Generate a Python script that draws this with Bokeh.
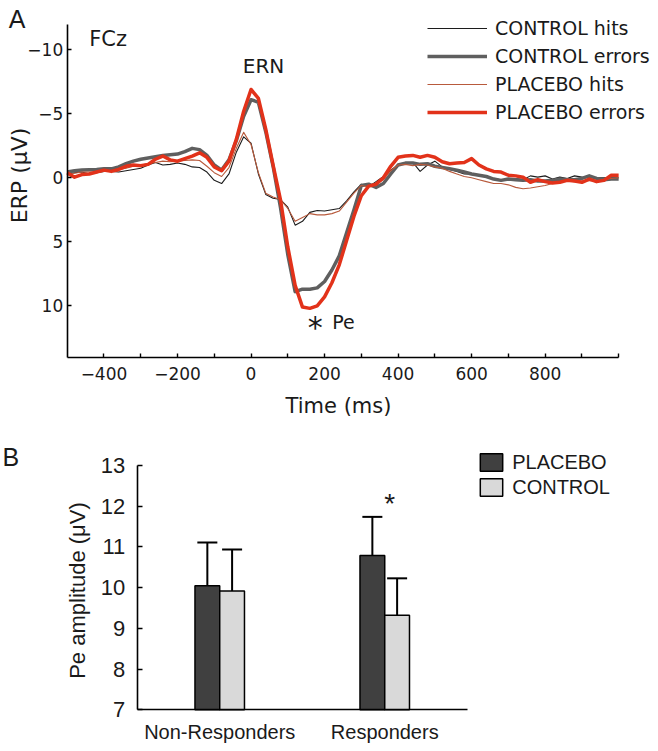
import math
from bokeh.plotting import figure
from bokeh.models import (Range1d, FixedTicker, Label, Legend, LegendItem,
                          ColumnDataSource, Whisker, TeeHead)
from bokeh.layouts import column
from bokeh.embed import file_html
from bokeh.resources import INLINE

# ---------------- Panel A data (ERP at FCz, µV; negative up) ----------------
time_ms = [-500, -480, -460, -440, -420, -400, -380, -360, -340, -320, -300, -280,
           -260, -240, -220, -200, -180, -160, -140, -120, -100, -80, -60, -40,
           -20, 0, 20, 40, 60, 80, 100, 120, 140, 160, 180, 200, 220, 240, 260,
           280, 300, 320, 340, 360, 380, 400, 420, 440, 460, 480, 500, 520, 540,
           560, 580, 600, 620, 640, 660, 680, 700, 720, 740, 760, 780, 800, 820,
           840, 860, 880, 900, 920, 940, 960, 980, 1000]

control_hits = [-0.3, -0.4, -0.45, -0.3, -0.4, -0.5, -0.5, -0.45, -0.55, -0.65, -0.75, -1.0,
                -1.2, -1.0, -1.05, -1.15, -1.05, -0.85, -0.8, -0.45, 0.2, 0.45, -0.3, -2.0,
                -3.2, -2.7, -0.3, 1.3, 1.6, 1.7, 2.3, 3.7, 3.4, 2.7, 2.55, 2.6, 2.5, 2.4, 1.8,
                1.1, 0.5, 0.7, 0.3, -0.1, -0.6, -1.0, -1.15, -1.2, -0.5, -1.0, -1.3, -0.85, -0.65,
                -0.5, -0.3, -0.3, -0.2, -0.05, 0.05, 0.15, 0.2, 0.05, 0.15, -0.15, -0.05, -0.15, 0.1,
                -0.05, 0.05, -0.15, -0.05, 0.0, 0.0, 0.0, 0.0, 0.0]

control_errors = [-0.45, -0.55, -0.6, -0.62, -0.65, -0.7, -0.7, -0.85, -1.1, -1.3, -1.45, -1.55,
                  -1.65, -1.75, -1.8, -1.85, -2.05, -2.3, -2.2, -1.75, -1.0, -0.6, -1.4, -2.9,
                  -4.8, -6.1, -5.9, -3.6, -0.9, 2.3, 6.0, 8.9, 8.7, 8.7, 8.6, 8.1, 7.2, 6.1, 4.3,
                  2.5, 0.6, 0.5, 0.75, 0.45, -0.3, -1.0, -1.15, -1.15, -1.05, -1.1, -0.9, -0.8, -0.7,
                  -0.6, -0.45, -0.3, -0.2, -0.1, 0.1, 0.2, 0.1, 0.15, 0.2, 0.15, 0.25, 0.25, 0.2,
                  0.1, 0.15, 0.15, 0.05, -0.15, 0.05, 0.15, 0.1, 0.1]

placebo_hits = [-0.2, -0.35, -0.45, -0.45, -0.45, -0.5, -0.55, -0.65, -0.75, -0.9, -1.0, -1.1,
                -1.2, -1.3, -1.25, -1.3, -1.35, -1.4, -1.35, -0.9, -0.4, -0.1, -0.8, -2.3,
                -3.55, -2.6, -0.4, 1.2, 1.5, 1.7, 2.4, 3.4, 3.1, 2.8, 2.9, 2.9, 2.8, 2.6, 1.9,
                1.2, 0.6, 0.7, 0.5, 0.15, -0.55, -1.0, -1.05, -0.95, -1.05, -1.0, -0.85, -0.75, -0.5,
                -0.3, -0.1, 0.0, 0.15, 0.3, 0.45, 0.45, 0.55, 0.75, 0.85, 0.8, 0.7, 0.6, 0.45,
                0.35, 0.25, 0.3, 0.25, 0.2, 0.25, 0.15, 0.05, 0.0]

placebo_errors = [-0.4, -0.05, -0.25, -0.3, -0.45, -0.6, -0.5, -0.65, -0.9, -1.0, -0.95, -1.05,
                  -1.45, -1.7, -1.4, -1.3, -1.5, -1.7, -1.95, -1.6, -0.85, -0.55, -1.3, -3.0,
                  -5.2, -6.9, -6.2, -3.8, -1.0, 1.7, 5.4, 8.4, 10.1, 10.2, 10.0, 9.3, 8.2, 6.8, 4.9,
                  3.0, 1.4, 0.65, 0.5, 0.0, -0.9, -1.6, -1.7, -1.75, -1.6, -1.75, -1.6, -1.25, -1.1,
                  -1.15, -1.2, -1.5, -1.0, -0.7, -0.5, -0.45, -0.2, -0.15, -0.05, 0.35, 0.15, 0.3, 0.4,
                  0.35, 0.2, 0.25, 0.35, 0.1, 0.3, 0.2, -0.2, -0.2]

x_ticks_a = [-400, -300, -200, -100, 0, 100, 200, 300, 400, 500, 600, 700, 800, 900, 1000]
x_labels_a = ["−400", "", "−200", "", "0", "", "200", "", "400", "", "600", "", "800", "", ""]
y_ticks_a = [-10, -5, 0, 5, 10]
y_labels_a = ["−10", "−5", "0", "5", "10"]

# ---------------- Panel B data (Pe amplitude, µV) ----------------
groups = ["Non-Responders", "Responders"]
group_pos = [1, 2]
placebo_pe = [10.05, 10.79]
placebo_sem = [1.06, 0.95]
control_pe = [9.92, 9.32]
control_sem = [1.02, 0.91]
y_ticks_b = [7, 8, 9, 10, 11, 12, 13]

FONT_A = "DejaVu Sans"
FONT_B = "Liberation Sans"
INK = "#1a1a1a"

# ================= Panel A =================
# The frame fills the whole canvas; the axes are drawn at fixed data locations
# so that every text can live inside the (clipped) frame.
pA = figure(width=658, height=420, output_backend="svg", toolbar_location=None,
            x_range=Range1d(-681.5, 1108.4), y_range=Range1d(18.96, -13.85),
            min_border_left=0, min_border_right=0, min_border_top=0,
            min_border_bottom=0)
pA.frame_align = False
pA.outline_line_color = None
pA.grid.visible = False

series = [
    ("CONTROL hits", control_hits, "#1c1c1c", 1.1),
    ("CONTROL errors", control_errors, "#5f5f5f", 3.5),
    ("PLACEBO hits", placebo_hits, "#b85a3c", 1.1),
    ("PLACEBO errors", placebo_errors, "#e2321a", 3.5),
]
items_a = []
for name, vals, col, lw in series:
    r = pA.line(time_ms, vals, line_color=col, line_width=lw, line_join="round")
    items_a.append(LegendItem(label=name, renderers=[r]))

for ax in (pA.xaxis[0], pA.yaxis[0]):
    ax.axis_line_color = "black"
    ax.axis_line_width = 1.6
    ax.major_tick_line_color = "black"
    ax.major_tick_line_width = 1.4
    ax.major_tick_in = 4
    ax.major_tick_out = 0
    ax.minor_tick_line_color = None
    ax.major_label_text_font = FONT_A
    ax.major_label_text_font_size = "17px"
    ax.major_label_text_color = INK

xa = pA.xaxis[0]
xa.fixed_location = 14
xa.bounds = (-500, 1000)
xa.ticker = FixedTicker(ticks=x_ticks_a)
xa.major_label_overrides = dict(zip(x_ticks_a, x_labels_a))
xa.major_label_standoff = 10
ya = pA.yaxis[0]
ya.fixed_location = -500
ya.bounds = (-12, 14)
ya.ticker = FixedTicker(ticks=y_ticks_a)
ya.major_label_overrides = dict(zip(y_ticks_a, y_labels_a))
ya.major_label_standoff = 4

legA = Legend(items=items_a, location=(427, 296), glyph_width=60, glyph_height=24,
              label_height=24, spacing=4, label_standoff=8, padding=0, margin=0,
              border_line_color=None, background_fill_alpha=0,
              label_text_font=FONT_A, label_text_font_size="19px",
              label_text_color=INK)
pA.add_layout(legA)

pA.add_layout(Label(x=-440, y=-10.85, text="FCz", text_font=FONT_A, text_font_size="21px",
                    text_align="left", text_baseline="middle", text_color=INK))
pA.add_layout(Label(x=34, y=-8.75, text="ERN", text_font=FONT_A, text_font_size="20px",
                    text_align="center", text_baseline="middle", text_color=INK))
pA.add_layout(Label(x=175, y=11.7, text="*", text_font=FONT_A, text_font_size="30px",
                    text_align="center", text_baseline="alphabetic", text_color=INK))
pA.add_layout(Label(x=221, y=11.3, text="Pe", text_font=FONT_A, text_font_size="19px",
                    text_align="left", text_baseline="middle", text_color=INK))
pA.add_layout(Label(x=-630, y=-0.18, text="ERP (μV)",
                    angle=math.pi / 2, text_font=FONT_A, text_font_size="22px",
                    text_align="center", text_baseline="middle", text_color=INK))
pA.add_layout(Label(x=238, y=17.8, text="Time (ms)",
                    text_font=FONT_A, text_font_size="21px",
                    text_align="center", text_baseline="middle", text_color=INK))
pA.add_layout(Label(x=-659, y=-12.42, text="A",
                    text_font=FONT_B, text_font_size="25px",
                    text_align="left", text_baseline="alphabetic", text_color=INK))

# ================= Panel B =================
pB = figure(width=658, height=331, output_backend="svg", toolbar_location=None,
            x_range=Range1d(-0.3285, 3.659), y_range=Range1d(5.975, 14.108),
            min_border_left=0, min_border_right=0, min_border_top=0,
            min_border_bottom=0)
pB.frame_align = False
pB.outline_line_color = None
pB.grid.visible = False

offset = 0.075
bar_w = 0.15
src = ColumnDataSource(dict(
    xp=[g - offset for g in group_pos],
    xc=[g + offset for g in group_pos],
    placebo=placebo_pe,
    control=control_pe,
    p_up=[m + s for m, s in zip(placebo_pe, placebo_sem)],
    p_lo=[m - s for m, s in zip(placebo_pe, placebo_sem)],
    c_up=[m + s for m, s in zip(control_pe, control_sem)],
    c_lo=[m - s for m, s in zip(control_pe, control_sem)],
))
rp = pB.vbar(x="xp", top="placebo", bottom=7, width=bar_w, source=src,
             fill_color="#404040", line_color="black", line_width=1.5)
rc = pB.vbar(x="xc", top="control", bottom=7, width=bar_w, source=src,
             fill_color="#d9d9d9", line_color="black", line_width=1.5)

for base, up, lo in (("xp", "p_up", "p_lo"), ("xc", "c_up", "c_lo")):
    w = Whisker(source=src, base=base, upper=up, lower=lo, dimension="height",
                line_color="black", line_width=2,
                upper_head=TeeHead(size=20, line_color="black", line_width=2),
                lower_head=TeeHead(size=20, line_color="black", line_width=2))
    pB.add_layout(w)

xb = pB.xaxis[0]
xb.fixed_location = 7
xb.bounds = (0.5, 2.5)
xb.ticker = FixedTicker(ticks=group_pos)
xb.major_label_overrides = dict(zip(group_pos, groups))
xb.major_tick_line_color = None
xb.minor_tick_line_color = None
xb.axis_line_color = "black"
xb.axis_line_width = 1.6
xb.major_label_standoff = 5
xb.major_label_text_font = FONT_B
xb.major_label_text_font_size = "20px"
xb.major_label_text_color = INK

yb = pB.yaxis[0]
yb.fixed_location = 0.5
yb.bounds = (7, 13)
yb.ticker = FixedTicker(ticks=y_ticks_b)
yb.major_tick_in = 5
yb.major_tick_out = 0
yb.major_tick_line_color = "black"
yb.major_tick_line_width = 1.4
yb.minor_tick_line_color = None
yb.axis_line_color = "black"
yb.axis_line_width = 1.6
yb.major_label_standoff = 12
yb.major_label_text_font = FONT_B
yb.major_label_text_font_size = "22px"
yb.major_label_text_color = INK

legB = Legend(items=[LegendItem(label="PLACEBO", renderers=[rp]),
                     LegendItem(label="CONTROL", renderers=[rc])],
              location=(477.2, 252.2), glyph_width=28, glyph_height=22, label_height=22,
              spacing=2, label_standoff=7, padding=0, margin=0,
              border_line_color=None, background_fill_alpha=0,
              label_text_font=FONT_B, label_text_font_size="20px",
              label_text_color=INK)
pB.add_layout(legB)

pB.add_layout(Label(x=2.03, y=12.07, text="*", text_font=FONT_B, text_font_size="28px",
                    text_align="center", text_baseline="alphabetic", text_color=INK))
pB.add_layout(Label(x=0.138, y=9.93, text="Pe amplitude (μV)", angle=math.pi / 2,
                    text_font=FONT_B, text_font_size="22px", text_align="center",
                    text_baseline="middle", text_color=INK))
pB.add_layout(Label(x=-0.316, y=13.2, text="B",
                    text_font=FONT_B, text_font_size="25px",
                    text_align="left", text_baseline="alphabetic", text_color=INK))

layout = column(pA, pB, spacing=0)
open("out.html", "w").write(file_html(layout, INLINE))
